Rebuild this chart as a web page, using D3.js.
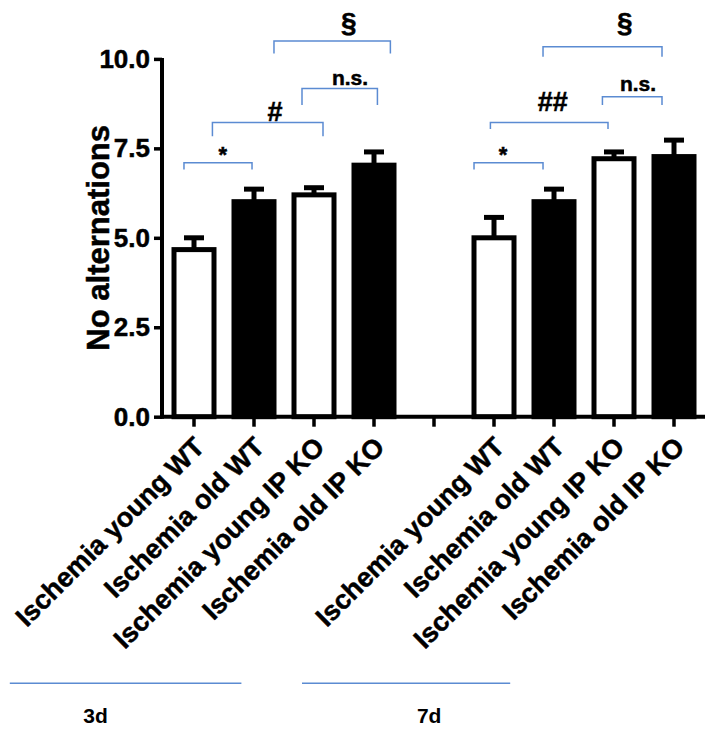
<!DOCTYPE html>
<html><head><meta charset="utf-8">
<script src="https://cdn.jsdelivr.net/npm/d3@7"></script>
<style>
body{margin:0;background:#fff;}
text{font-family:"Liberation Sans",Arial,Helvetica,sans-serif;font-weight:bold;}
.heavy{stroke:#000;stroke-width:0.5px;}
</style></head>
<body><svg id="c" width="714" height="731"></svg>
<script>
// ---- data ----
const categories = ["Ischemia young WT","Ischemia old WT","Ischemia young IP KO","Ischemia old IP KO","",
                    "Ischemia young WT","Ischemia old WT","Ischemia young IP KO","Ischemia old IP KO"];
const values = [4.67, 6.01, 6.20, 7.03, null, 5.00, 6.01, 7.21, 7.27];
const errors = [0.33, 0.35, 0.20, 0.37, null, 0.57, 0.35, 0.19, 0.46];
const filled = [false, true, false, true, null, false, true, false, true];
const yTicks = [0, 2.5, 5, 7.5, 10];
const yTitle = "No alternations";
const groups = ["3d", "7d"];
// significance brackets: from/to in category-index units, level/end in data units
const bracketFrom  = [-0.167, 0.307, 1.80, 1.333, 4.667, 4.94, 6.807, 5.817];
const bracketTo    = [0.967, 2.15, 3.057, 3.273, 5.817, 6.90, 7.80, 7.80];
const bracketLevel = [7.095, 8.22, 9.17, 10.50, 7.095, 8.22, 8.94, 10.34];
const bracketEnd   = [6.91, 7.84, 8.71, 10.15, 6.91, 8.04, 8.71, 10.06];
const bracketText  = ["*", "#", "n.s.", "§", "*", "##", "n.s.", "§"];
const bracketTextX = [0.48, 1.35, 2.60, 2.58, 5.15, 5.98, 7.40, 7.18];
const bracketTextY = [7.34, 8.53, 9.47, 11.02, 7.34, 8.80, 9.31, 11.02];

// ---- layout ----
const svg = d3.select("#c");
const blue = "#5b8bd2";
const idx = d3.range(categories.length);
const x = d3.scaleBand().domain(idx).range([164, 704]).paddingInner(1/3).paddingOuter(1/6);
const y = d3.scaleLinear().domain([0, 10]).range([416.7, 58.9]);
const xc = i => x(0) + x.bandwidth()/2 + i * x.step();

// bars
const bars = idx.filter(i => values[i] !== null);
svg.append("g").selectAll("rect").data(bars).join("rect")
  .attr("x", i => x(i)).attr("width", x.bandwidth())
  .attr("y", i => y(values[i])).attr("height", i => y(0) - y(values[i]))
  .attr("fill", i => filled[i] ? "#000" : "#fff")
  .attr("stroke", "#000").attr("stroke-width", 5);

// error bars
const eg = svg.append("g").attr("stroke", "#000").attr("stroke-width", 5);
eg.selectAll("line.stem").data(bars).join("line").attr("class","stem")
  .attr("x1", i => xc(i)).attr("x2", i => xc(i))
  .attr("y1", i => y(values[i])).attr("y2", i => y(values[i] + errors[i]));
eg.selectAll("line.cap").data(bars).join("line").attr("class","cap")
  .attr("x1", i => xc(i) - 10).attr("x2", i => xc(i) + 10)
  .attr("y1", i => y(values[i] + errors[i])).attr("y2", i => y(values[i] + errors[i]));

// y axis
const ya = svg.append("g").attr("transform", "translate(162,0)")
  .call(d3.axisLeft(y).tickValues(yTicks).tickFormat(d3.format(".1f")).tickSize(8).tickPadding(4));
ya.select(".domain").attr("stroke-width", 4).attr("d", `M0,${y(0)+2}V${y(10)-1}`);
ya.selectAll(".tick line").attr("stroke-width", 3.5);
ya.selectAll(".tick text").attr("class", "heavy").attr("font-size", 26).attr("font-weight", "bold")
  .attr("font-family", '"Liberation Sans",Arial,sans-serif').attr("fill", "#000");

// x axis
const xa = svg.append("g").attr("transform", `translate(0,${y(0)})`)
  .call(d3.axisBottom(x).tickFormat(i => categories[i]).tickSize(10).tickSizeOuter(0));
xa.select(".domain").attr("stroke-width", 4).attr("d", "M160,0H705");
xa.selectAll(".tick line").attr("stroke-width", 3.5);
xa.selectAll(".tick text").attr("class", "heavy").attr("font-size", 27).attr("font-weight", "bold")
  .attr("font-family", '"Liberation Sans",Arial,sans-serif').attr("fill", "#000")
  .attr("text-anchor", "end").attr("dy", null).attr("y", 0)
  .attr("transform", "translate(12,32) rotate(-45)");

// y title
svg.append("text").attr("class", "heavy").attr("transform", `translate(109,${(y(0)+y(10))/2}) rotate(-90)`)
  .attr("text-anchor", "middle").attr("font-size", 31).text(yTitle);

// brackets
const bg = svg.append("g");
bracketText.forEach((t, k) => {
  const x1 = xc(bracketFrom[k]), x2 = xc(bracketTo[k]);
  const yl = y(bracketLevel[k]), ye = y(bracketEnd[k]);
  bg.append("path").attr("d", `M${x1},${ye}V${yl}H${x2}V${ye}`)
    .attr("fill", "none").attr("stroke", blue).attr("stroke-width", 1.5);
  const fs = t === "§" ? 28 : (t.startsWith("#") ? 27 : (t === "*" ? 22 : 21));
  bg.append("text").attr("class", "heavy").attr("x", xc(bracketTextX[k])).attr("y", y(bracketTextY[k]))
    .attr("text-anchor", "middle").attr("dy", "0.35em").attr("font-size", fs).text(t);
});

// group lines and labels
const groupFrom = [-3.07, 1.80];
const groupTo = [0.79, 5.27];
const gLabelX = [-1.64, 3.92];
groups.forEach((g, k) => {
  svg.append("line").attr("x1", xc(groupFrom[k])).attr("x2", xc(groupTo[k]))
    .attr("y1", 683.3).attr("y2", 683.3).attr("stroke", blue).attr("stroke-width", 1.5);
  svg.append("text").attr("x", xc(gLabelX[k])).attr("y", 723).attr("text-anchor", "middle")
    .attr("font-size", 21).text(g);
});
</script></body></html>
